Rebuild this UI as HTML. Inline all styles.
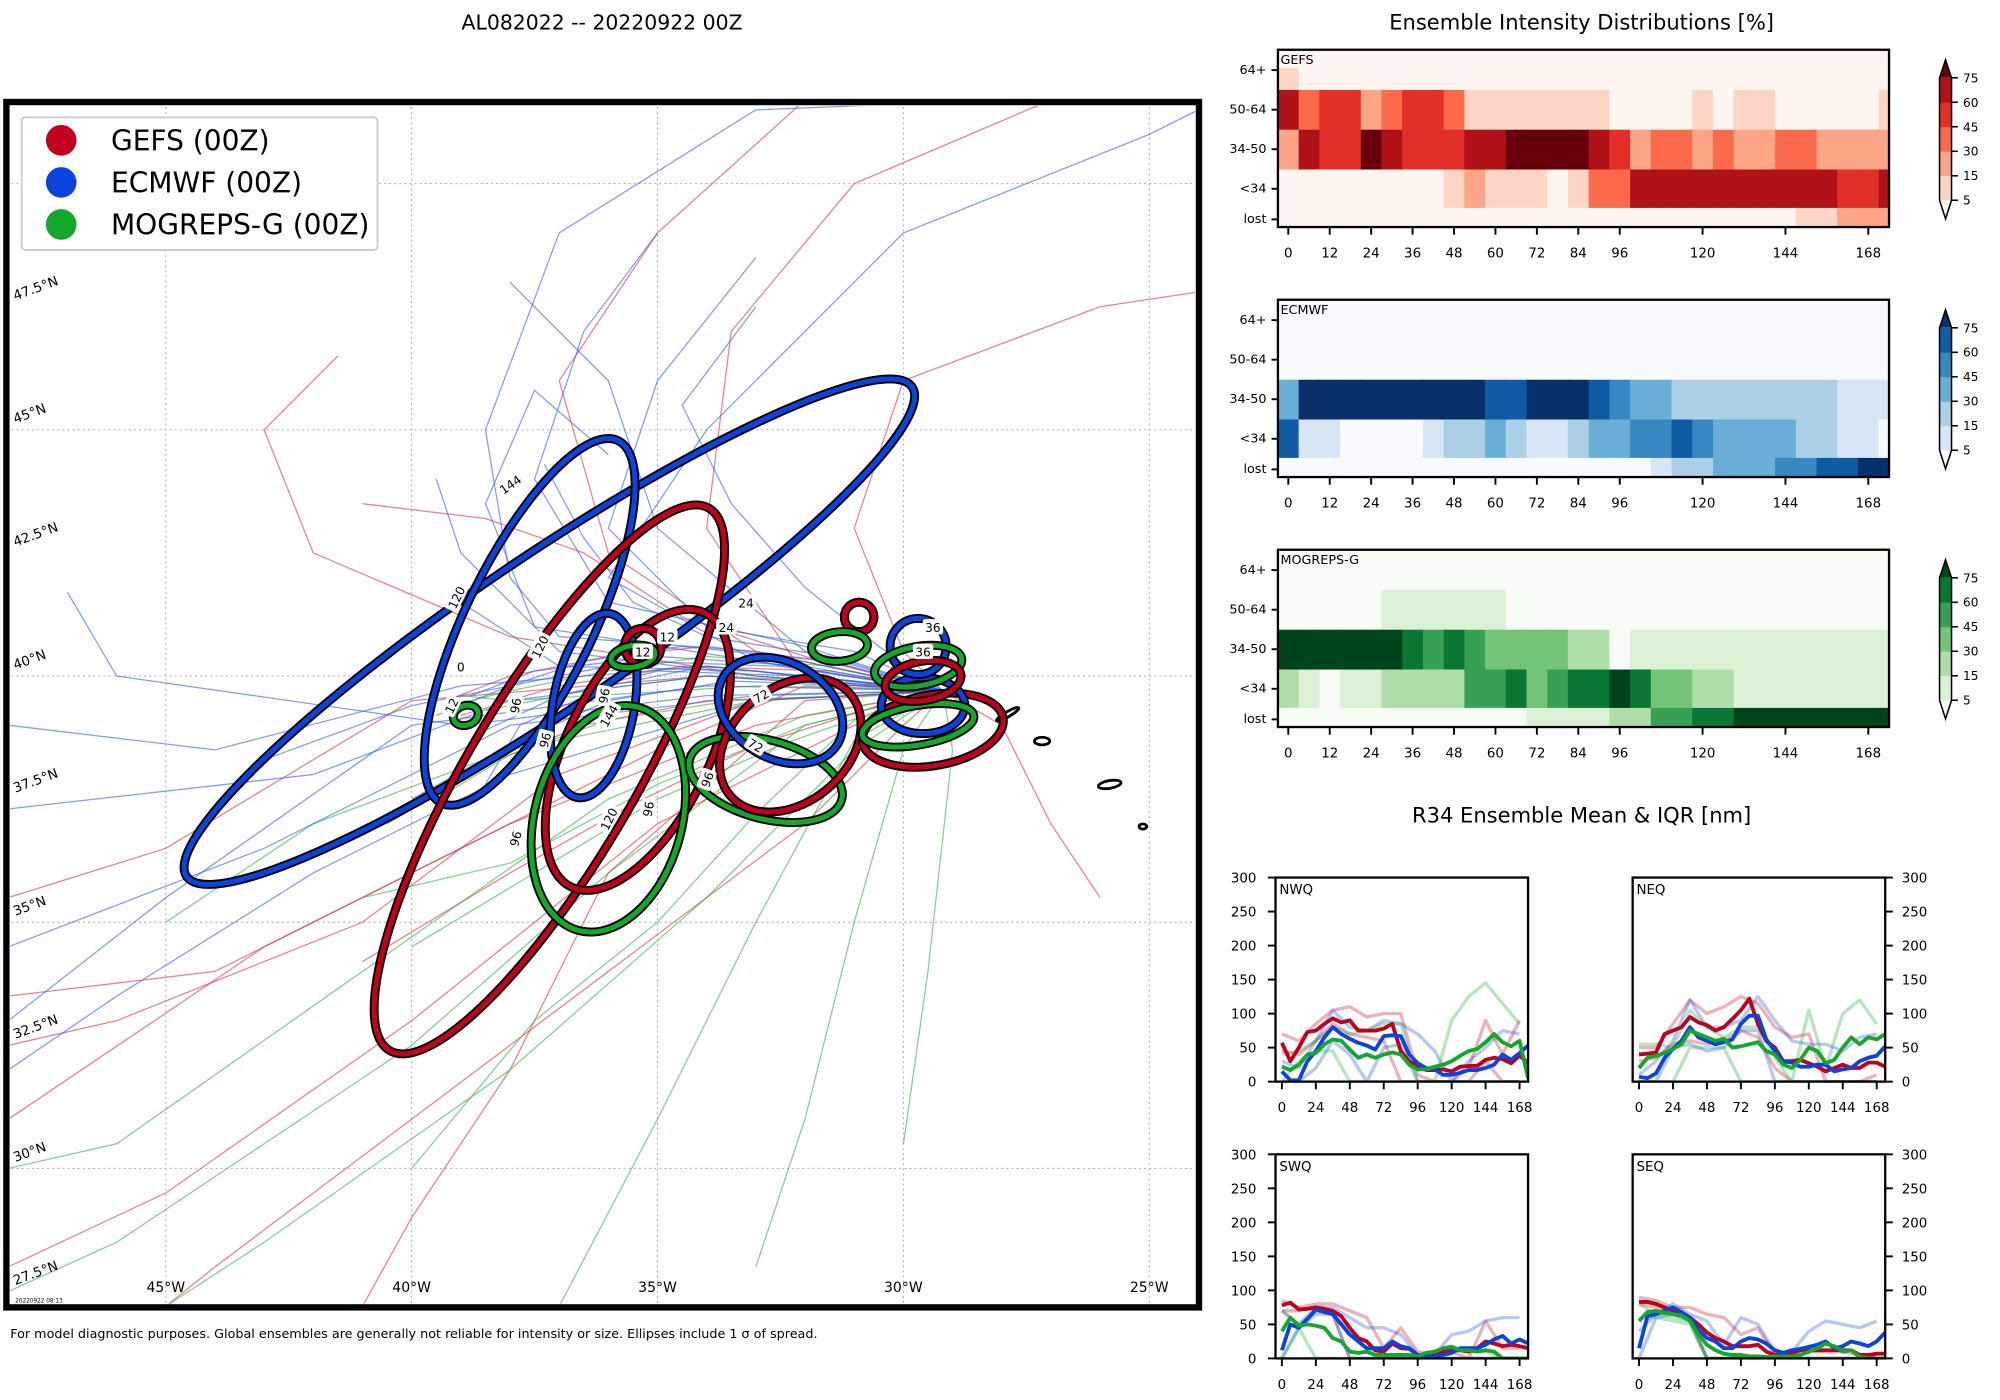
<!DOCTYPE html>
<html><head><meta charset="utf-8"><style>
html,body{margin:0;padding:0;background:#fff}
svg{display:block;font-family:"DejaVu Sans","Liberation Sans",sans-serif}
</style></head><body>
<svg id="root" width="2000" height="1400" viewBox="0 0 1568 1097.6" xmlns="http://www.w3.org/2000/svg">
<defs><clipPath id="mapclip"><rect x="8" y="83" width="929" height="939"/></clipPath></defs>
<text x="472" y="23" text-anchor="middle" font-size="16">AL082022 -- 20220922 00Z</text>
<text x="1240" y="23" text-anchor="middle" font-size="16.5">Ensemble Intensity Distributions [%]</text>
<text x="1240" y="645" text-anchor="middle" font-size="16.5">R34 Ensemble Mean &amp; IQR [nm]</text>
<text x="8" y="1049" font-size="10">For model diagnostic purposes. Global ensembles are generally not reliable for intensity or size. Ellipses include 1 σ of spread.</text>
<g id="map"></g>
<g id="heat"></g>
<g id="r34"></g>
</svg>
<script>
// ---------- MAP DATA ----------
const lonTicks=[-45,-40,-35,-30,-25];
const lonLabels=["45°W","40°W","35°W","30°W","25°W"];
const latGrid=[50,45,40,35,30];
const latTicks=[47.5,45,42.5,40,37.5,35,32.5,30,27.5];
const latLabels=["47.5°N","45°N","42.5°N","40°N","37.5°N","35°N","32.5°N","30°N","27.5°N"];
const start=[-29.2,39.7];
const blueTracks=[
[[-33,40.5],[-37,40.8],[-38,42],[-38.5,45],[-37,49],[-33,51.5],[-28,51.7]],
[[-33,40.3],[-37.5,41],[-38.5,43.5],[-37.5,45.8],[-36,44.5]],
[[-34,40],[-38,39.5],[-42,38],[-48.2,37.3]],
[[-34,40.2],[-39,39.8],[-44,38.5],[-48.2,39]],
[[-33,39.6],[-38,39],[-43,36.5],[-48.2,34.5]],
[[-34,39.8],[-40,39],[-45,35.5],[-48.2,33]],
[[-33,40.3],[-36,42],[-34,45],[-30,49],[-25,51],[-24,51.5]],
[[-32,40.5],[-35,43],[-36,46],[-38,48]],
[[-33,39.5],[-38,38],[-42,36],[-46,33.5],[-48.2,32]],
[[-34,39.6],[-39,39],[-46,40],[-47,41.7]],
[[-33,40],[-37,40.5],[-39,42.5],[-39.5,44]],
[[-31,40.5],[-34,41],[-36,43],[-35,46],[-33,48.5]],
[[-33,40.1],[-37,40.2],[-39,41.5],[-38,43]],
[[-32,40.6],[-36,41.5],[-37.5,44],[-36.5,47],[-35,49]],
[[-32,40.2],[-35,40.4],[-37.5,40.1],[-38.8,39.6]],
[[-31.5,40.3],[-34.5,40.6],[-36.5,40.3],[-38,39.8],[-39.5,39.2]],
[[-32,40],[-35,40.1],[-37,39.6],[-38.5,38.9]],
[[-31,39.9],[-34,40.2],[-36,39.8],[-37.8,39.0],[-38.5,37.8]],
[[-31.5,40.4],[-34,40.8],[-35.5,41.5],[-36.5,42.8],[-37.3,44.3]],
[[-32.5,40.2],[-35.5,40.3],[-37.5,39.9],[-40,39.4],[-43,38.3]],
[[-31,39.8],[-33.5,39.9],[-36,39.5],[-38,38.6],[-40,37.5]],
[[-30.5,40.6],[-32,41.8],[-33.5,43.5],[-34.5,45.5],[-33,47.5]]];
const redTracks=[
[[-33,39.5],[-37,38],[-41,35],[-46,33],[-48.2,32.5]],
[[-33,39],[-38,37],[-43,34.5],[-48.2,31]],
[[-32,40],[-34,43],[-33.5,47],[-31,50],[-27,51.7]],
[[-33,40],[-38,40.8],[-42,42.5],[-43,45],[-41.5,46.5]],
[[-30,39],[-32,37],[-36,34],[-40,31],[-44,28],[-45,27.2]],
[[-31,39],[-35,37],[-40,33],[-45,29.5],[-48.2,28]],
[[-30,40.5],[-31,43],[-30,46],[-26,47.5],[-24,47.8]],
[[-28,39],[-27,37],[-26,35.5]],
[[-34,40],[-40,39.5],[-45,36.5],[-48.2,35.5]],
[[-32,39.5],[-36,36],[-38,32],[-40,29],[-41,27.2]],
[[-33,40.5],[-36,42.5],[-37,46],[-35,49],[-32,51.7]],
[[-32,39.8],[-35,38.5],[-39,36.5],[-44,34],[-48.2,33.5]],
[[-31.5,40.1],[-34.5,40.2],[-37,39.8],[-39,39.2]],
[[-31,39.6],[-34,39.5],[-36.5,39],[-38.5,38.2],[-40.5,37]],
[[-31.5,40.3],[-34,40.6],[-36,40.4],[-38,40],[-39.3,39.5]],
[[-30.5,39.4],[-33,38.6],[-35.5,37.4],[-38,36],[-41,34.2]],
[[-32,40.4],[-34.5,41.2],[-36.5,42.5],[-38.5,43.2],[-41,43.5]]];
const greenTracks=[
[[-31,38.5],[-34,35.5],[-38,32],[-43,28.5],[-45,27.2]],
[[-31,38.7],[-33,35],[-35,31],[-37,27.2]],
[[-32,39],[-36,36],[-40,32.5],[-46,28.5],[-48.2,27.5]],
[[-30,38.5],[-31,35],[-32,31],[-33,28]],
[[-33,39.5],[-38,38.5],[-42,37],[-45,35]],
[[-32,39.2],[-36,37.5],[-41,34],[-46,30.5],[-48.2,30]],
[[-29,38.5],[-29.5,34],[-30,30.5]],
[[-33,39.8],[-38,39.5],[-39,39.6]],
[[-32,39],[-35,37.8],[-38,36.2],[-41,35.5]],
[[-31.5,39.9],[-34,40],[-36.5,39.7],[-38.5,39.3]],
[[-31,39.6],[-33.5,39.5],[-36,39.1],[-38,38.4],[-39.5,37.5]],
[[-31.5,40.2],[-34,40.4],[-36,40.1],[-38,39.7],[-39.2,39.4]],
[[-30.5,39.3],[-32.5,38.6],[-35,37.5],[-37,36.3],[-40,34.5]],
[[-31,39.1],[-33,37.2],[-35,35],[-37.5,33],[-40,30]]];
// ellipses: lon, lat, semi-major (deg), semi-minor (deg), rotation (deg)
const ellModel=["blue","blue","red","red","blue","green","green","red","blue","red","blue","green","blue","green","red","blue","red","green","blue","red","green","green"];
const ellLon=[-37.2,-37.6,-37.2,-35.4,-36.3,-36.0,-32.8,-32.3,-32.5,-29.4,-29.6,-29.7,-29.7,-29.7,-29.6,-30.9,-30.9,-31.3,-35.3,-35.3,-35.5,-38.9];
const ellLat=[40.9,41.1,37.9,38.5,39.4,37.1,37.9,38.6,39.3,38.9,39.4,39.0,40.6,40.2,39.9,41.2,41.2,40.6,40.6,40.6,40.4,39.2];
const ellA=[8.9,4.1,6.4,3.1,1.9,2.35,1.6,1.6,1.35,1.45,0.85,1.15,0.57,0.9,0.78,0.3,0.3,0.57,0.37,0.37,0.45,0.26];
const ellB=[1.55,1.3,1.7,1.45,0.83,1.5,0.8,1.17,0.98,0.72,0.57,0.4,0.57,0.4,0.4,0.3,0.3,0.3,0.37,0.37,0.22,0.2];
const ellRot=[-34,-64,-59.5,-64,-80,-75,15,-40,30,-10,0,-10,0,-10,-10,0,0,-5,0,0,-10,-20];
const lblText=["144","120","96","120","96","144","96","120","96","96","12","12","24","24","36","36","72","72","96","0","12"];
const lblLon=[-38.0,-39.1,-37.9,-37.4,-36.1,-36.0,-37.3,-36.0,-35.2,-37.9,-35.3,-34.8,-33.2,-33.6,-29.4,-29.6,-32.9,-33.0,-34.0,-39.0,-39.2];
const lblLat=[43.9,41.6,39.4,40.6,39.6,39.2,38.7,37.1,37.3,36.7,40.5,40.8,41.5,41.0,41.0,40.5,39.6,38.6,37.9,40.2,39.4];
const lblRot=[-35,-64,-80,-64,-80,-60,-75,-64,-80,-75,0,0,0,0,0,0,-30,30,-70,0,-64];
const modelColor={red:"#c0001c",blue:"#0a44dd",green:"#14a82a"};

// ---------- HEATMAP DATA ----------
const hmRows=["64+","50-64","34-50","<34","lost"];
const hmHours=[0,6,12,18,24,30,36,42,48,54,60,66,72,78,84,90,96,102,108,114,120,126,132,138,144,150,156,162,168,174];
const hmTicks=[0,12,24,36,48,60,72,84,96,120,144,168];
const cbLevels=[5,15,30,45,60,75];
const gefsPct=[
[10,0,0,0,0,0,0,0,0,0,0,0,0,0,0,0,0,0,0,0,0,0,0,0,0,0,0,0,0,0],
[65,40,50,50,20,40,50,50,40,10,10,10,10,10,10,10,0,0,0,0,10,0,10,10,0,0,0,0,0,10],
[20,65,50,50,80,65,50,50,50,65,65,80,80,80,80,65,50,20,40,40,20,40,20,20,40,40,20,20,20,20],
[0,0,0,0,0,0,0,0,10,20,10,10,10,0,10,40,40,65,65,65,65,65,65,65,65,65,65,50,50,65],
[0,0,0,0,0,0,0,0,0,0,0,0,0,0,0,0,0,0,0,0,0,0,0,0,0,10,10,20,20,20]];
const ecmwfPct=[
[0,0,0,0,0,0,0,0,0,0,0,0,0,0,0,0,0,0,0,0,0,0,0,0,0,0,0,0,0,0],
[0,0,0,0,0,0,0,0,0,0,0,0,0,0,0,0,0,0,0,0,0,0,0,0,0,0,0,0,0,0],
[40,80,80,80,80,80,80,80,80,80,65,65,80,80,80,65,50,40,40,20,20,20,20,20,20,20,20,10,10,10],
[65,10,10,0,0,0,0,10,20,20,40,20,10,10,20,40,40,50,50,65,50,40,40,40,40,20,20,10,10,0],
[0,0,0,0,0,0,0,0,0,0,0,0,0,0,0,0,0,0,10,20,20,40,40,40,50,50,65,65,80,80]];
const mogrepsPct=[
[0,0,0,0,0,0,0,0,0,0,0,0,0,0,0,0,0,0,0,0,0,0,0,0,0,0,0,0,0,0],
[0,0,0,0,0,10,10,10,10,10,10,0,0,0,0,0,0,0,0,0,0,0,0,0,0,0,0,0,0,0],
[80,80,80,80,80,80,65,50,65,50,40,40,40,40,20,20,0,10,10,10,10,10,10,10,10,10,10,10,10,10],
[20,10,0,10,10,20,20,20,20,50,50,65,40,50,65,65,80,65,40,40,20,20,10,10,10,10,10,10,10,10],
[0,0,0,0,0,0,0,0,0,0,0,0,10,10,10,10,20,20,50,50,65,65,80,80,80,80,80,80,80,80]];
const reds=['#fff5f0','#fdd5c4','#fca486','#fb6b4b','#e32f27','#b11218','#67000d'];
const blues=['#f7fbff','#d6e6f4','#abd0e6','#6aaed6','#3787c0','#105ba4','#08306b'];
const greens=['#f7fcf5','#dbf1d5','#aedea7','#73c476','#37a055','#0b7734','#00441b'];

// ---------- R34 DATA ----------
const r34Hours=[0,6,12,18,24,30,36,42,48,54,60,66,72,78,84,90,96,102,108,114,120,126,132,138,144,150,156,162,168,174];
const iqrHours=[0,12,24,36,48,60,72,84,96,108,120,132,144,156,168];
const r34Ticks=[0,24,48,72,96,120,144,168];
const r34YTicks=[0,50,100,150,200,250,300];
const nwqGefs=[57,30,50,73,75,85,93,87,90,75,75,75,78,85,45,30,22,17,17,18,15,22,23,23,32,35,33,27,38,28];
const nwqEcm=[15,2,2,30,45,65,80,70,63,57,53,47,67,68,67,40,27,20,18,10,10,13,17,17,20,25,40,32,42,53];
const nwqMog=[22,17,25,40,42,55,62,60,47,35,40,35,40,43,40,25,18,18,22,25,30,38,45,48,58,70,58,52,60,5];
const neqGefs=[40,41,43,70,75,80,95,87,83,75,80,92,105,122,85,60,50,30,30,32,27,22,15,20,25,20,20,28,28,22];
const neqEcm=[7,5,12,35,48,60,80,65,60,55,58,62,85,97,97,62,45,30,28,22,22,25,25,15,18,20,30,35,38,52];
const neqMog=[20,35,38,42,48,55,75,70,65,60,63,50,52,55,58,45,40,25,20,32,50,45,27,32,50,65,55,65,62,70];
const swqGefs=[78,82,72,73,75,73,70,62,45,30,25,12,10,22,15,14,5,5,5,10,12,12,10,15,25,22,18,20,18,15];
const swqEcm=[12,50,45,58,72,68,65,50,35,25,15,15,15,25,18,15,5,3,3,5,8,15,15,15,20,28,33,22,28,22];
const swqMog=[40,60,48,50,48,45,30,25,10,8,10,5,5,5,5,5,3,8,10,15,17,12,12,10,12,10,0,0,0,0];
const seqGefs=[83,83,80,75,70,65,60,50,38,30,25,18,18,18,20,10,5,5,8,12,12,12,12,12,12,12,5,5,7,7];
const seqEcm=[15,62,65,70,75,68,60,42,30,25,15,15,25,30,28,22,12,8,12,14,17,20,25,15,18,25,22,18,25,38];
const seqMog=[55,68,70,67,65,63,55,35,20,12,7,5,5,3,3,2,3,3,3,5,10,15,22,18,10,12,2,0,0,0];
const nwqGefsHi=[70,60,85,105,110,95,100,100,10,0,0,20,90,40,90];
const nwqGefsLo=[45,40,60,85,70,65,60,0,0,0,0,0,30,0,0];
const nwqEcmHi=[30,20,60,105,80,75,90,85,70,45,0,30,50,75,70];
const nwqEcmLo=[0,0,20,60,40,0,50,55,0,0,0,0,0,0,0];
const nwqMogHi=[40,45,60,80,70,75,85,85,0,0,90,125,145,115,85];
const nwqMogLo=[0,30,45,45,0,0,0,0,0,0,0,0,0,0,0];
const neqGefsHi=[50,50,85,120,100,110,125,115,80,65,70,0,0,0,10];
const neqGefsLo=[30,35,55,60,55,60,75,65,20,0,0,0,0,0,0];
const neqEcmHi=[10,30,60,120,80,80,90,125,90,60,55,55,45,65,70];
const neqEcmLo=[0,0,50,55,45,50,75,75,0,0,0,0,0,0,0];
const neqMogHi=[55,55,50,105,80,65,80,80,35,0,105,20,100,120,85];
const neqMogLo=[0,0,0,50,50,50,0,0,0,0,0,0,0,0,0];
const swqGefsHi=[85,75,80,80,70,60,15,45,10,5,10,0,55,15,15];
const swqGefsLo=[70,70,75,65,0,0,0,0,0,0,0,0,0,0,0];
const swqEcmHi=[70,50,75,75,60,45,45,35,5,5,35,40,55,60,60];
const swqEcmLo=[0,45,65,65,0,0,0,0,0,0,0,0,0,0,0];
const swqMogHi=[70,50,70,65,40,15,5,5,5,10,15,10,10,0,0];
const swqMogLo=[0,45,0,0,0,0,0,0,0,0,0,0,0,0,0];
const seqGefsHi=[90,85,75,75,65,60,35,45,5,5,10,10,10,5,5];
const seqGefsLo=[80,75,70,60,0,0,0,0,0,0,0,0,0,0,0];
const seqEcmHi=[40,65,80,65,55,20,60,50,10,10,40,55,50,45,55];
const seqEcmLo=[0,60,65,55,0,0,0,0,0,0,0,0,0,0,0];
const seqMogHi=[80,65,60,55,0,0,0,0,0,0,0,0,0,0,0];
const seqMogLo=[60,60,55,50,0,0,0,0,0,0,0,0,0,0,0];

const NS="http://www.w3.org/2000/svg";
function mk(tag,attrs,parent){const e=document.createElementNS(NS,tag);for(const k in attrs)e.setAttribute(k,attrs[k]);parent.appendChild(e);return e;}

// ---------- MAP ----------
const map=document.getElementById('map');
const px=lon=>130+(lon+45)*38.55;
const py=lat=>530-(lat-40)*38.6;
let bg=mk('rect',{x:5,y:80,width:935,height:945,fill:'#fff'},map);


const inner=mk('g',{'clip-path':'url(#mapclip)'},map);


lonTicks.forEach((lon,i)=>{
  const l=mk('line',{x1:px(lon),x2:px(lon),y1:80,y2:1025,stroke:'#aaa','stroke-width':0.8,'stroke-dasharray':'1.5,2.5'},inner);
  
  
  const t=mk('text',{x:px(lon),y:1013,'font-size':11,'text-anchor':'middle'},map);
  t.textContent=lonLabels[i];
  
  
});
latGrid.forEach(lat=>{
  const l=mk('line',{x1:5,x2:940,y1:py(lat),y2:py(lat),stroke:'#aaa','stroke-width':0.8,'stroke-dasharray':'1.5,2.5'},inner);
  
  
});
latTicks.forEach((lat,i)=>{
  const y=py(lat)-5;
  const t=mk('text',{x:12,y:y,'font-size':10.5,transform:`rotate(-20 12 ${y})`},map);
  t.textContent=latLabels[i];
  
  
});
function drawTracks(tracks,color,name){
  tracks.forEach(tr=>{
    const pts=[start].concat(tr).map(p=>px(p[0]).toFixed(1)+','+py(p[1]).toFixed(1)).join(' ');
    const pl=mk('polyline',{points:pts,fill:'none',stroke:color,'stroke-width':1,'stroke-opacity':0.6},inner);
    
    
  });
}
drawTracks(redTracks,'#d83040','gefs-track');
drawTracks(greenTracks,'#30b040','mogreps-track');
drawTracks(blueTracks,'#2a5ef0','ecmwf-track');
// islands
[[870,615,9,3,-10],[817,581,6,3,0],[896,648,3,2,0],[790,560,10,2,-30]].forEach(p=>{
  const e=mk('ellipse',{cx:p[0],cy:p[1],rx:p[2],ry:p[3],fill:'#fff',stroke:'#000','stroke-width':2.2,transform:`rotate(${p[4]} ${p[0]} ${p[1]})`},inner);
  
  
});
const degx=38.55;
ellModel.forEach((m,i)=>{
  const cx=px(ellLon[i]),cy=py(ellLat[i]),rx=ellA[i]*degx,ry=ellB[i]*degx;
  const tf=`rotate(${ellRot[i]} ${cx} ${cy})`;
  const o=mk('ellipse',{cx,cy,rx,ry,fill:'none',stroke:'#000','stroke-width':7,transform:tf},inner);
  
  
  const e=mk('ellipse',{cx,cy,rx,ry,fill:'none',stroke:modelColor[m],'stroke-width':4,transform:tf},inner);
  
  
});
lblText.forEach((s,i)=>{
  const x=px(lblLon[i]),y=py(lblLat[i]);
  const g=mk('g',{transform:`translate(${x} ${y}) rotate(${lblRot[i]})`},inner);
  
  
  const w=s.length*6+4;
  mk('rect',{x:-w/2,y:-6,width:w,height:12,fill:'#fff',rx:2},g);
  const t=mk('text',{x:0,y:4,'font-size':9.5,'text-anchor':'middle'},g);
  t.textContent=s;
});
const fr=mk('rect',{x:5,y:80,width:935,height:945,fill:'none',stroke:'#000','stroke-width':5},map);


const stamp=mk('text',{x:12,y:1021,'font-size':4.5},map);
stamp.textContent='20220922 08:13';


// legend
const leg=mk('g',{},map);


mk('rect',{x:17,y:92,width:279,height:104,fill:'#fff',stroke:'#ccc','stroke-width':1.5,rx:3},leg);
[['GEFS (00Z)','#c0001c'],['ECMWF (00Z)','#0a44dd'],['MOGREPS-G (00Z)','#14a82a']].forEach((d,i)=>{
  const g=mk('g',{},leg);
  
  
  mk('circle',{cx:48,cy:110+i*33,r:12,fill:d[1]},g);
  const t=mk('text',{x:87,y:118+i*33,'font-size':22},g);
  t.textContent=d[0];
});

// ---------- HEATMAPS ----------
const heat=document.getElementById('heat');
const hx=h=>1001.9+(h+3)/177*479.1;
const rowB=[53.3,70.5,101.7,132.9,163,178];
const rowLblY=[58,89,120,151,175];
function drawHeat(name,data,pal,y0){
  const g=mk('g',{},heat);
  
  
  const off=y0-39;
  mk('rect',{x:hx(-3),y:39+off,width:hx(174)-hx(-3),height:139,fill:pal[0]},g);
  data.forEach((row,r)=>{
    row.forEach((v,c)=>{
      let bin=0;cbLevels.forEach(l=>{if(v>=l)bin++;});
      const h=hmHours[c];
      const x1=hx(h-3),x2=hx(Math.min(h+3,174));
      const cell=mk('rect',{x:x1,y:rowB[r]+off,width:x2-x1+0.4,height:rowB[r+1]-rowB[r]+0.4,fill:pal[bin]},g);
      
      
    });
  });
  mk('rect',{x:hx(-3),y:39+off,width:hx(174)-hx(-3),height:139,fill:'none',stroke:'#000','stroke-width':1.8},g);
  const lb=mk('text',{x:hx(-3)+2,y:50+off,'font-size':10},g);
  lb.textContent=name;
  hmRows.forEach((s,r)=>{
    mk('line',{x1:hx(-3)-5,x2:hx(-3),y1:rowLblY[r]-3+off,y2:rowLblY[r]-3+off,stroke:'#000','stroke-width':1.5},g);
    const t=mk('text',{x:hx(-3)-9,y:rowLblY[r]+off,'font-size':10,'text-anchor':'end'},g);
    t.textContent=s;
    
    
  });
  hmTicks.forEach(h=>{
    mk('line',{x1:hx(h),x2:hx(h),y1:178+off,y2:184+off,stroke:'#000','stroke-width':1.5},g);
    const t=mk('text',{x:hx(h),y:202+off,'font-size':10.5,'text-anchor':'middle'},g);
    t.textContent=h;
    
    
  });
  const cb=mk('g',{},g);
  
  
  const cx1=1520.6,cx2=1530,top=61+off,bot=157+off,bh=(bot-top)/5;
  for(let k=1;k<=5;k++){mk('rect',{x:cx1,y:bot-k*bh,width:cx2-cx1,height:bh+0.3,fill:pal[k]},cb);}
  mk('polygon',{points:`${cx1},${top} ${cx2},${top} ${(cx1+cx2)/2},${46.9+off}`,fill:pal[6]},cb);
  mk('polygon',{points:`${cx1},${bot} ${cx2},${bot} ${(cx1+cx2)/2},${171.5+off}`,fill:pal[0]},cb);
  mk('path',{d:`M${cx1},${top} L${(cx1+cx2)/2},${46.9+off} L${cx2},${top} L${cx2},${bot} L${(cx1+cx2)/2},${171.5+off} L${cx1},${bot} Z`,fill:'none',stroke:'#000','stroke-width':1.2},cb);
  cbLevels.forEach((l,k)=>{
    const y=bot-k*bh;
    mk('line',{x1:cx2,x2:cx2+5,y1:y,y2:y,stroke:'#000','stroke-width':1.2},cb);
    const t=mk('text',{x:cx2+9,y:y+3.5,'font-size':9.5},cb);
    t.textContent=l;
  });
}
drawHeat('GEFS',gefsPct,reds,39);
drawHeat('ECMWF',ecmwfPct,blues,235);
drawHeat('MOGREPS-G',mogrepsPct,greens,431);

// ---------- R34 ----------
const r34=document.getElementById('r34');
const panels=[
 {name:'NWQ',x0:1000,y0:688,right:false,m:[nwqGefs,nwqEcm,nwqMog],iq:[[nwqGefsHi,nwqGefsLo],[nwqEcmHi,nwqEcmLo],[nwqMogHi,nwqMogLo]]},
 {name:'NEQ',x0:1280,y0:688,right:true,m:[neqGefs,neqEcm,neqMog],iq:[[neqGefsHi,neqGefsLo],[neqEcmHi,neqEcmLo],[neqMogHi,neqMogLo]]},
 {name:'SWQ',x0:1000,y0:905,right:false,m:[swqGefs,swqEcm,swqMog],iq:[[swqGefsHi,swqGefsLo],[swqEcmHi,swqEcmLo],[swqMogHi,swqMogLo]]},
 {name:'SEQ',x0:1280,y0:905,right:true,m:[seqGefs,seqEcm,seqMog],iq:[[seqGefsHi,seqGefsLo],[seqEcmHi,seqEcmLo],[seqMogHi,seqMogLo]]}];
const lineCols=['#c0001c','#0a44dd','#14a82a'];
const lineNames=['gefs','ecmwf','mogreps'];
panels.forEach(p=>{
  const g=mk('g',{},r34);
  
  
  const W=198,H=160;
  const sx=h=>p.x0+(h+4.5)/178.5*W;
  const sy=v=>p.y0+H-v/300*H;
  const inner=mk('svg',{x:p.x0,y:p.y0,width:W,height:H,viewBox:`${p.x0} ${p.y0} ${W} ${H}`,overflow:'hidden'},g);
  p.iq.forEach((pair,k)=>{
    pair.forEach(arr=>{
      const pts=arr.map((v,i)=>sx(iqrHours[i]).toFixed(1)+','+sy(v).toFixed(1)).join(' ');
      const pl=mk('polyline',{points:pts,fill:'none',stroke:lineCols[k],'stroke-width':2.6,'stroke-opacity':0.3,'stroke-linejoin':'round'},inner);
      
      
    });
  });
  p.m.forEach((arr,k)=>{
    const pts=arr.map((v,i)=>sx(r34Hours[i]).toFixed(1)+','+sy(v).toFixed(1)).join(' ');
    const pl=mk('polyline',{points:pts,fill:'none',stroke:lineCols[k],'stroke-width':3,'stroke-linejoin':'round'},inner);
    
    
  });
  mk('rect',{x:p.x0,y:p.y0,width:W,height:H,fill:'none',stroke:'#000','stroke-width':1.8},g);
  const lb=mk('text',{x:p.x0+3,y:p.y0+13,'font-size':10.5},g);
  lb.textContent=p.name;
  r34YTicks.forEach(v=>{
    const y=sy(v);
    const ax=p.right?p.x0+W:p.x0;
    mk('line',{x1:ax,x2:p.right?ax+6:ax-6,y1:y,y2:y,stroke:'#000','stroke-width':1.5},g);
    const t=mk('text',{x:p.right?ax+13:ax-15,y:y+4,'font-size':10.5,'text-anchor':p.right?'start':'end'},g);
    t.textContent=v;
    
    
  });
  r34Ticks.forEach(h=>{
    mk('line',{x1:sx(h),x2:sx(h),y1:p.y0+H,y2:p.y0+H+6,stroke:'#000','stroke-width':1.5},g);
    const t=mk('text',{x:sx(h),y:p.y0+H+24,'font-size':10.5,'text-anchor':'middle'},g);
    t.textContent=h;
    
    
  });
});
</script>
</body></html>
